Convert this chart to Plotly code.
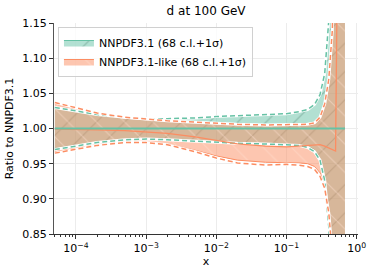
import plotly.graph_objects as go

x = [5e-5, 1e-4, 2e-4, 5e-4, 1e-3, 2e-3, 5e-3, 1e-2, 2e-2, 5e-2, 0.1, 0.15,
     0.2, 0.25, 0.3, 0.35, 0.4, 0.45, 0.5, 0.55, 0.6, 0.68]

green_central = [1.0] * len(x)
green_up68 = [1.029, 1.024, 1.019, 1.015, 1.013, 1.013, 1.014, 1.016, 1.017, 1.018, 1.020, 1.023,
              1.026, 1.032, 1.045, 1.075, 1.13, 1.20, 1.35, 1.5, 1.7, 2.0]
green_lo68 = [0.972, 0.977, 0.981, 0.985, 0.986, 0.985, 0.983, 0.981, 0.980, 0.979, 0.978, 0.977,
              0.975, 0.970, 0.958, 0.930, 0.870, 0.80, 0.70, 0.60, 0.50, 0.40]
green_up1s = [1.030, 1.025, 1.020, 1.016, 1.014, 1.014, 1.015, 1.017, 1.018, 1.019, 1.021, 1.024,
              1.027, 1.034, 1.048, 1.078, 1.14, 1.22, 1.38, 1.55, 1.75, 2.05]
green_lo1s = [0.970, 0.975, 0.980, 0.984, 0.985, 0.984, 0.982, 0.980, 0.979, 0.978, 0.977, 0.976,
              0.973, 0.967, 0.955, 0.926, 0.860, 0.79, 0.69, 0.59, 0.49, 0.39]

orange_central = [0.999, 0.999, 0.998, 0.997, 0.995, 0.993, 0.988, 0.983, 0.978, 0.975, 0.974, 0.975,
                  0.976, 0.976, 0.977, 0.975, 0.972, 0.970, 0.968, 1.4, 1.8, 2.2]
orange_up68 = [1.035, 1.028, 1.021, 1.015, 1.012, 1.010, 1.008, 1.006, 1.005, 1.004, 1.004, 1.004,
               1.005, 1.006, 1.013, 1.031, 1.066, 1.13, 1.28, 1.5, 1.8, 2.2]
orange_lo68 = [0.967, 0.972, 0.977, 0.981, 0.981, 0.978, 0.969, 0.961, 0.955, 0.952, 0.952, 0.951,
               0.950, 0.946, 0.937, 0.920, 0.885, 0.83, 0.72, 0.60, 0.50, 0.40]
orange_up1s = [1.037, 1.030, 1.022, 1.016, 1.013, 1.011, 1.009, 1.007, 1.006, 1.005, 1.005, 1.005,
               1.006, 1.008, 1.016, 1.035, 1.070, 1.14, 1.30, 1.55, 1.85, 2.25]
orange_lo1s = [0.965, 0.970, 0.976, 0.980, 0.980, 0.977, 0.967, 0.958, 0.951, 0.948, 0.949, 0.948,
               0.946, 0.942, 0.932, 0.915, 0.880, 0.82, 0.71, 0.59, 0.49, 0.39]

x_tickvals = [1e-4, 1e-3, 1e-2, 1e-1, 1e0]
x_ticktext = ["10<sup>−4</sup>", "10<sup>−3</sup>", "10<sup>−2</sup>", "10<sup>−1</sup>", "10<sup>0</sup>"]
x_minor_ticks = [m * 10.0 ** e for e in range(-5, 1) for m in range(2, 10)]

GREEN = "rgb(102,194,165)"
ORANGE = "rgb(252,141,98)"
FONT = "DejaVu Sans"

fig = go.Figure()

# Green band
fig.add_trace(go.Scatter(x=x, y=green_lo68, mode="lines", line=dict(color=GREEN, width=1),
                         showlegend=False, hoverinfo="skip"))
fig.add_trace(go.Scatter(x=x, y=green_up68, mode="lines", line=dict(color=GREEN, width=1),
                         fill="tonexty", fillcolor="rgba(102,194,165,0.5)",
                         fillpattern=dict(shape="/", bgcolor="rgba(102,194,165,0.5)",
                                          fgcolor="rgba(60,110,90,0.7)", size=20, solidity=0.06),
                         name="NNPDF3.1 (68 c.l.+1σ)"))
# Orange band
fig.add_trace(go.Scatter(x=x, y=orange_lo68, mode="lines", line=dict(color=ORANGE, width=1),
                         showlegend=False, hoverinfo="skip"))
fig.add_trace(go.Scatter(x=x, y=orange_up68, mode="lines", line=dict(color=ORANGE, width=1),
                         fill="tonexty", fillcolor="rgba(252,141,98,0.5)",
                         fillpattern=dict(shape="\\", bgcolor="rgba(252,141,98,0.5)",
                                          fgcolor="rgba(255,225,210,0.9)", size=20, solidity=0.06),
                         name="NNPDF3.1-like (68 c.l.+1σ)"))

# dashed 1-sigma lines with white underlay
for ys, col in [(green_up1s, GREEN), (green_lo1s, GREEN), (orange_up1s, ORANGE), (orange_lo1s, ORANGE)]:
    fig.add_trace(go.Scatter(x=x, y=ys, mode="lines", line=dict(color="white", width=3),
                             showlegend=False, hoverinfo="skip"))
    fig.add_trace(go.Scatter(x=x, y=ys, mode="lines", line=dict(color=col, width=1.5, dash="5px,3px"),
                             showlegend=False, hoverinfo="skip"))

# central lines
fig.add_trace(go.Scatter(x=x, y=orange_central, mode="lines", line=dict(color=ORANGE, width=1.3),
                         showlegend=False, hoverinfo="skip"))
fig.add_trace(go.Scatter(x=x, y=green_central, mode="lines", line=dict(color=GREEN, width=2),
                         showlegend=False, hoverinfo="skip"))

fig.update_layout(
    width=374, height=275,
    margin=dict(l=54, r=16, t=23, b=41, autoexpand=False),
    paper_bgcolor="white", plot_bgcolor="white",
    font=dict(family=FONT, size=11, color="black"),
    title=dict(text="d at 100 GeV", x=0.551, xanchor="center", y=0.962, yanchor="middle",
               font=dict(size=12)),
    legend=dict(x=0.013, y=0.981, xanchor="left", yanchor="top", traceorder="normal",
                bgcolor="rgba(255,255,255,0.8)", bordercolor="#d0d0d0", borderwidth=1,
                font=dict(size=11), tracegroupgap=0, itemwidth=30),
    showlegend=True,
)
fig.update_xaxes(type="log", range=[-4.313, 0.0185], showgrid=True, gridcolor="#ececec",
                 showline=True, linecolor="#333", linewidth=1, ticks="outside", ticklen=4,
                 tickcolor="#333", tickmode="array", tickvals=x_tickvals, ticktext=x_ticktext,
                 automargin=False,
                 minor=dict(ticks="outside", ticklen=2, tickcolor="#333", showgrid=False,
                            tickmode="array", tickvals=x_minor_ticks),
                 title=dict(text="x", standoff=2, font=dict(size=11)), zeroline=False,
                 tickfont=dict(size=11))
fig.update_yaxes(range=[0.85, 1.15], dtick=0.05, tickformat=".2f", showgrid=True, gridcolor="#ececec",
                 showline=True, linecolor="#555", linewidth=1, ticks="outside", ticklen=4,
                 tickcolor="#333", automargin=False,
                 title=dict(text="Ratio to NNPDF3.1", standoff=6, font=dict(size=11)),
                 zeroline=False, tickfont=dict(size=11))

fig.write_html("out.html", config={"displayModeBar": False},
               post_script="document.body.style.margin='0px';document.body.style.overflow='hidden';")
